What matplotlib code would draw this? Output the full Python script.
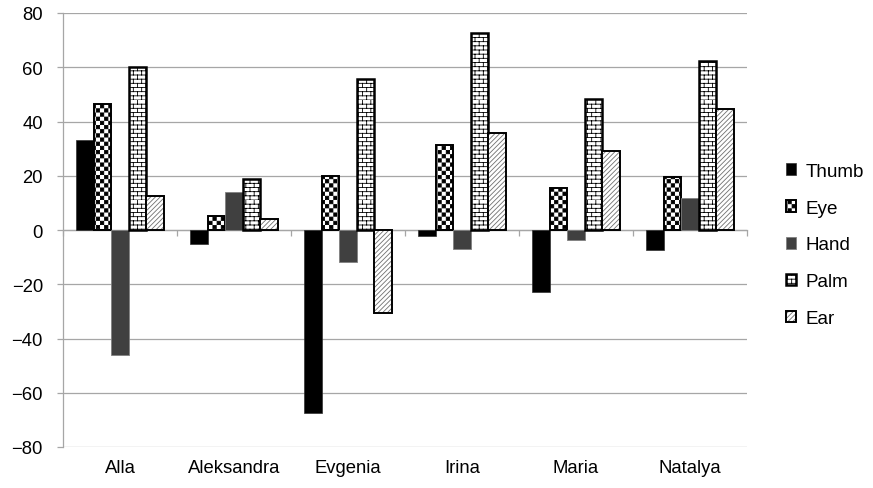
import warnings
warnings.filterwarnings("ignore")
import numpy as np
import matplotlib
matplotlib.use("Agg")
import matplotlib.pyplot as plt
from matplotlib import hatch as mhatch
from matplotlib.path import Path

# ---------------- data ----------------
names = ["Alla", "Aleksandra", "Evgenia", "Irina", "Maria", "Natalya"]
series = ["Thumb", "Eye", "Hand", "Palm", "Ear"]
thumb = [33, -5, -67.5, -2.3, -23, -7.3]
eye = [46.5, 5.2, 20, 31.3, 15.5, 19.5]
hand = [-46, 14.1, -11.9, -7, -3.6, 11.8]
palm = [60.2, 18.7, 55.5, 72.6, 48.3, 62.3]
ear = [12.4, 4, -30.7, 35.8, 29.1, 44.5]
yticks = [-80, -60, -40, -20, 0, 20, 40, 60, 80]

HATCH_LW = 0.6  # points
plt.rcParams['hatch.linewidth'] = HATCH_LW


# ---------------- custom hatches ----------------
class CheckerHatch(mhatch.HatchPatternBase):
    def __init__(self, hatch, density):
        self.n = 24 if 'C' in hatch else 0
        self.num_vertices = (self.n * self.n // 2) * 5

    def set_vertices_and_codes(self, vertices, codes):
        n = self.n
        s = 1.0 / n
        sh = (HATCH_LW / 72.0 * 100) / 2 / 100.0
        k = 0
        for i in range(n):
            for j in range(n):
                if (i + j) % 2 == 0:
                    x0, y0 = i * s + sh, j * s + sh
                    x1, y1 = (i + 1) * s - sh, (j + 1) * s - sh
                    vertices[k:k + 5] = [[x0, y0], [x1, y0], [x1, y1], [x0, y1], [x0, y0]]
                    codes[k] = Path.MOVETO
                    codes[k + 1:k + 4] = Path.LINETO
                    codes[k + 4] = Path.CLOSEPOLY
                    k += 5


class BrickHatch(mhatch.HatchPatternBase):
    def __init__(self, hatch, density):
        on = 'B' in hatch
        self.rows = 24 if on else 0
        self.cols = 12 if on else 0
        self.num_vertices = (self.rows * 2 + self.rows * self.cols * 2) if on else 0

    def set_vertices_and_codes(self, vertices, codes):
        r, c = self.rows, self.cols
        k = 0
        for j in range(r):
            y = j / r
            vertices[k] = [0, y]
            vertices[k + 1] = [1, y]
            codes[k] = Path.MOVETO
            codes[k + 1] = Path.LINETO
            k += 2
        for j in range(r):
            y0, y1 = j / r, (j + 1) / r
            off = 0.5 * (j % 2)
            for i in range(c):
                x = (i + off) / c
                vertices[k] = [x, y0]
                vertices[k + 1] = [x, y1]
                codes[k] = Path.MOVETO
                codes[k + 1] = Path.LINETO
                k += 2


mhatch._hatch_types.append(CheckerHatch)
mhatch._hatch_types.append(BrickHatch)

# ---------------- figure ----------------
plt.rcParams['font.family'] = ['Liberation Sans', 'DejaVu Sans']
fig = plt.figure(figsize=(8.73, 4.89), dpi=100)
ax = fig.add_axes([63 / 873, 1 - 448 / 489, (747 - 63) / 873, (448 - 14) / 489])

x = np.arange(len(names))
w = 1 / 6.5
grid_c = '#a6a6a6'

b_thumb = ax.bar(x - 2 * w, thumb, w, color='black', edgecolor='#303030', linewidth=0.5, zorder=3)
b_eye = ax.bar(x - 1 * w, eye, w, color='white', edgecolor='black', hatch='C', linewidth=1.4, zorder=3)
b_hand = ax.bar(x + 0 * w, hand, w, color='#404040', edgecolor='#808080', linewidth=0.6, zorder=3)
b_palm = ax.bar(x + 1 * w, palm, w, color='white', edgecolor='black', hatch='B', linewidth=1.8, zorder=3)
b_ear_h = ax.bar(x + 2 * w, ear, w, color='white', edgecolor='#707070', hatch='///////', linewidth=0, zorder=3)
b_ear_e = ax.bar(x + 2 * w, ear, w, color='none', edgecolor='black', linewidth=1.4, zorder=3.1)

ax.set_xlim(-0.5, len(names) - 0.5)
ax.set_ylim(-80, 80)
ax.set_yticks(yticks)
ax.set_yticklabels([f"{v}".replace('-', '\u2212') for v in yticks])
ax.yaxis.grid(True, color=grid_c, linewidth=0.9, zorder=0)
ax.set_axisbelow(True)

for s in ['top', 'right']:
    ax.spines[s].set_visible(False)
ax.spines['left'].set_color(grid_c)
ax.spines['left'].set_linewidth(0.9)
ax.spines['bottom'].set_position(('data', 0))
ax.spines['bottom'].set_color(grid_c)
ax.spines['bottom'].set_linewidth(0.9)
ax.spines['bottom'].set_zorder(2.5)

ax.tick_params(axis='y', direction='out', length=4.5, width=0.9, color=grid_c,
               labelsize=13.3, pad=10, labelcolor='black')
ax.set_xticks([])
ax.set_xticks(np.arange(-0.5, len(names), 1.0), minor=True)
ax.tick_params(axis='x', which='minor', direction='out', length=4, width=0.9, color=grid_c)

sec = ax.secondary_xaxis(0.0)
sec.set_xticks(x)
sec.set_xticklabels(names)
sec.tick_params(length=0, labelsize=13.3, pad=9)
sec.spines['bottom'].set_visible(False)

leg = fig.legend([b_thumb, b_eye, b_hand, b_palm, (b_ear_h, b_ear_e)], series,
                 loc='center left', bbox_to_anchor=(786 / 873, 1 - 246 / 489),
                 frameon=False, fontsize=13.6, handlelength=0.55, handleheight=0.55,
                 handletextpad=0.5, labelspacing=1.05, borderpad=0, borderaxespad=0)

fig.savefig('out.png', dpi=100)
